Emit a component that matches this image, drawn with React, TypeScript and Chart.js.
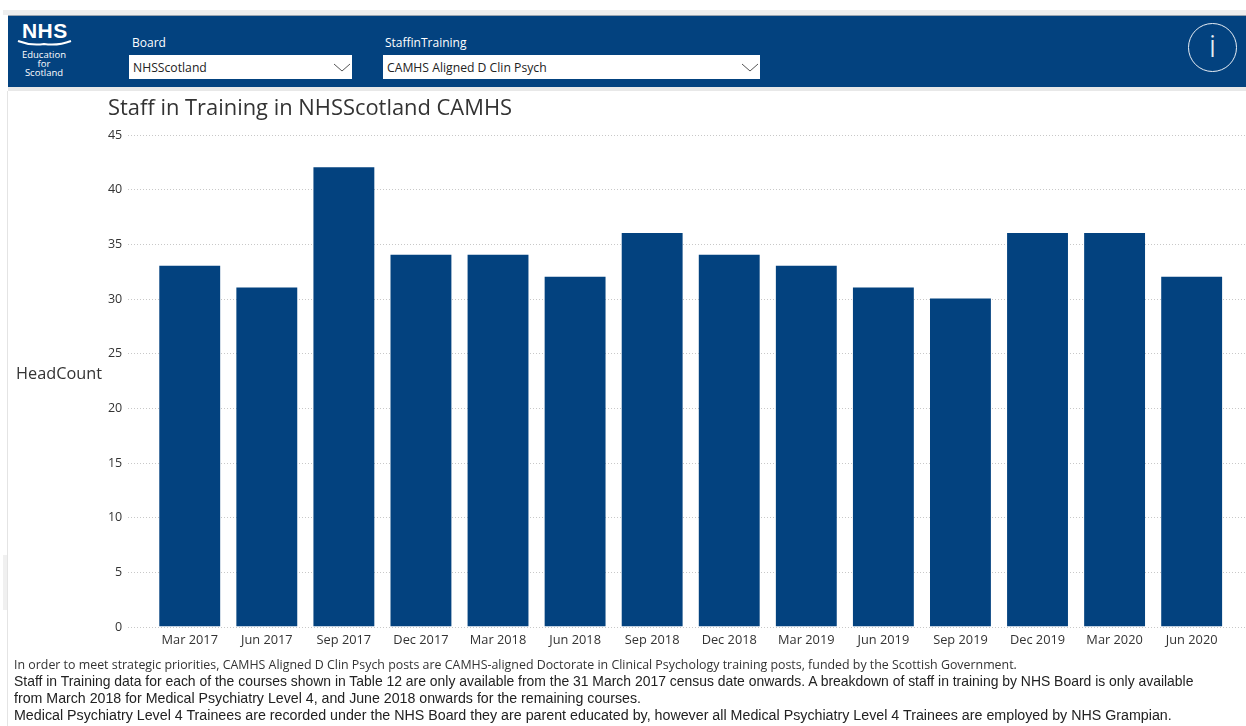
import React, { useEffect, useRef } from "react";
import { Chart, registerables } from "chart.js";

Chart.register(...registerables);

const categories = ["Mar 2017","Jun 2017","Sep 2017","Dec 2017","Mar 2018","Jun 2018","Sep 2018","Dec 2018","Mar 2019","Jun 2019","Sep 2019","Dec 2019","Mar 2020","Jun 2020"];
const headCount = [33,31,42,34,34,32,36,34,33,31,30,36,36,32];
const yMax = 45;
const yStep = 5;
const title = "Staff in Training in NHSScotland CAMHS";
const yTitle = "HeadCount";
const notes = [
  "Staff in Training data for each of the courses shown in Table 12 are only available from the 31 March 2017 census date onwards. A breakdown of staff in training by NHS Board is only available",
  "from March 2018 for Medical Psychiatry Level 4, and June 2018 onwards for the remaining courses.",
  "Medical Psychiatry Level 4 Trainees are recorded under the NHS Board they are parent educated by, however all Medical Psychiatry Level 4 Trainees are employed by NHS Grampian.",
];
const firstNote = "In order to meet strategic priorities, CAMHS Aligned D Clin Psych posts are CAMHS-aligned Doctorate in Clinical Psychology training posts, funded by the Scottish Government.";

const NAVY = "#03427f";
const UI = '"Open Sans", "Noto Sans", sans-serif';
const noteSizes = [13.93, 14.2, 14.26];

const wideGrid = {
  id: "wideGrid",
  beforeDatasetsDraw(chart: any) {
    const { ctx, scales } = chart;
    ctx.save();
    ctx.strokeStyle = "#c8c8c8";
    ctx.lineWidth = 1;
    ctx.setLineDash([1, 2]);
    scales.y.ticks.forEach((t: any) => {
      const y = Math.round(scales.y.getPixelForValue(t.value)) + 0.5;
      ctx.beginPath();
      ctx.moveTo(128, y);
      ctx.lineTo(1246, y);
      ctx.stroke();
    });
    ctx.restore();
  },
};

const abs = (left: number, top: number, extra: React.CSSProperties = {}): React.CSSProperties => ({
  position: "absolute", left, top, whiteSpace: "nowrap", ...extra,
});

function Select({ left, width, text }: { left: number; width: number; text: string }) {
  return (
    <div style={abs(left, 55, { width, height: 24, background: "#fff", fontFamily: UI, fontSize: 12.2, lineHeight: "26px", color: "#222" })}>
      <span style={{ marginLeft: 4 }}>{text}</span>
      <svg width="18" height="10" style={{ position: "absolute", right: 1, top: 8 }}>
        <path d="M1 1 L9 8 L17 1" fill="none" stroke="#555" strokeWidth="1" />
      </svg>
    </div>
  );
}

export default function App() {
  const ref = useRef<HTMLCanvasElement>(null);
  useEffect(() => {
    const chart = new Chart(ref.current!, {
      type: "bar",
      data: {
        labels: categories,
        datasets: [{ data: headCount, backgroundColor: NAVY, barPercentage: 0.79, categoryPercentage: 1 }],
      },
      plugins: [wideGrid],
      options: {
        animation: false,
        responsive: false,
        layout: { padding: { left: 0, right: 15.8, top: 134.5, bottom: 0 } },
        plugins: { legend: { display: false }, title: { display: false }, tooltip: { enabled: false } },
        scales: {
          x: {
            grid: { display: false, drawTicks: false },
            border: { display: false },
            ticks: { color: "#333", font: { family: UI, size: 12.8 }, padding: 6, maxRotation: 0, autoSkip: false },
            afterFit: (s: any) => { s.height = 99.5; },
          },
          y: {
            min: 0,
            max: yMax,
            grid: { display: false, drawTicks: false },
            border: { display: false },
            ticks: { stepSize: yStep, color: "#333", font: { family: UI, size: 12.5 }, padding: 29, labelOffset: 0.6 },
            afterFit: (s: any) => { s.width = 151.2; },
          },
        },
      },
    } as any);
    return () => chart.destroy();
  }, []);

  return (
    <div style={{ position: "absolute", left: 0, top: 0, width: 1246, height: 726, overflow: "hidden", background: "#fff" }}>
      <canvas ref={ref} width={1246} height={726} style={{ position: "absolute", left: 0, top: 0, display: "block" }} />
      <div style={abs(3, 10, { width: 1243, height: 5, background: "#eeeeee" })} />
      <div style={abs(8, 15, { width: 1238, height: 72, background: NAVY, borderTop: "1px solid #9aa5b1", boxSizing: "border-box" })} />
      <div style={abs(8, 87, { width: 1238, height: 4, background: "#e8e8e8" })} />
      <div style={abs(7, 91, { width: 1, height: 635, background: "#e4e4e4" })} />
      <div style={abs(3, 555, { width: 4, height: 55, background: "#f0f0f0" })} />

      <div style={abs(22, 20, { color: "#fff", fontFamily: "Liberation Sans", fontWeight: 700, fontSize: 21, lineHeight: "22px", letterSpacing: 0.4 })}>NHS</div>
      <svg width="56" height="10" style={{ position: "absolute", left: 17, top: 39 }}>
        <path d="M1 2 Q14 7 27 5 Q41 7 54 2" fill="none" stroke="#fff" strokeWidth="2" />
      </svg>
      <div style={{ ...abs(17, 50, { width: 54, textAlign: "center", color: "#fff", fontFamily: UI, fontSize: 9.5, lineHeight: "9px" }) }}>
        Education<br />for<br />Scotland
      </div>

      <div style={abs(132, 35, { color: "#fff", fontFamily: UI, fontSize: 12, lineHeight: "16px" })}>Board</div>
      <Select left={129} width={223} text="NHSScotland" />
      <div style={abs(385, 35, { color: "#fff", fontFamily: UI, fontSize: 12, lineHeight: "16px" })}>StaffinTraining</div>
      <Select left={383} width={377} text="CAMHS Aligned D Clin Psych" />

      <div style={abs(1188, 23, { width: 49, height: 49, borderRadius: "50%", border: "1.5px solid #e8eef5", boxSizing: "border-box", color: "#e8eef5", textAlign: "center", fontFamily: "Roboto", fontSize: 31, lineHeight: "46px", fontWeight: 300 })}>i</div>

      <div style={abs(108, 92, { color: "#333", fontFamily: UI, fontSize: 21.9, lineHeight: "30px" })}>{title}</div>
      <div style={abs(16, 363, { color: "#333", fontFamily: UI, fontSize: 16.3, lineHeight: "20px" })}>{yTitle}</div>

      <div style={abs(14, 657, { color: "#333", fontFamily: UI, fontSize: 12.4, lineHeight: "16px" })}>{firstNote}</div>
      {notes.map((n, i) => (
        <div key={i} style={abs(14, 673 + i * 17, { color: "#222", fontFamily: "Liberation Sans", fontSize: noteSizes[i], lineHeight: "16px" })}>{n}</div>
      ))}
    </div>
  );
}
